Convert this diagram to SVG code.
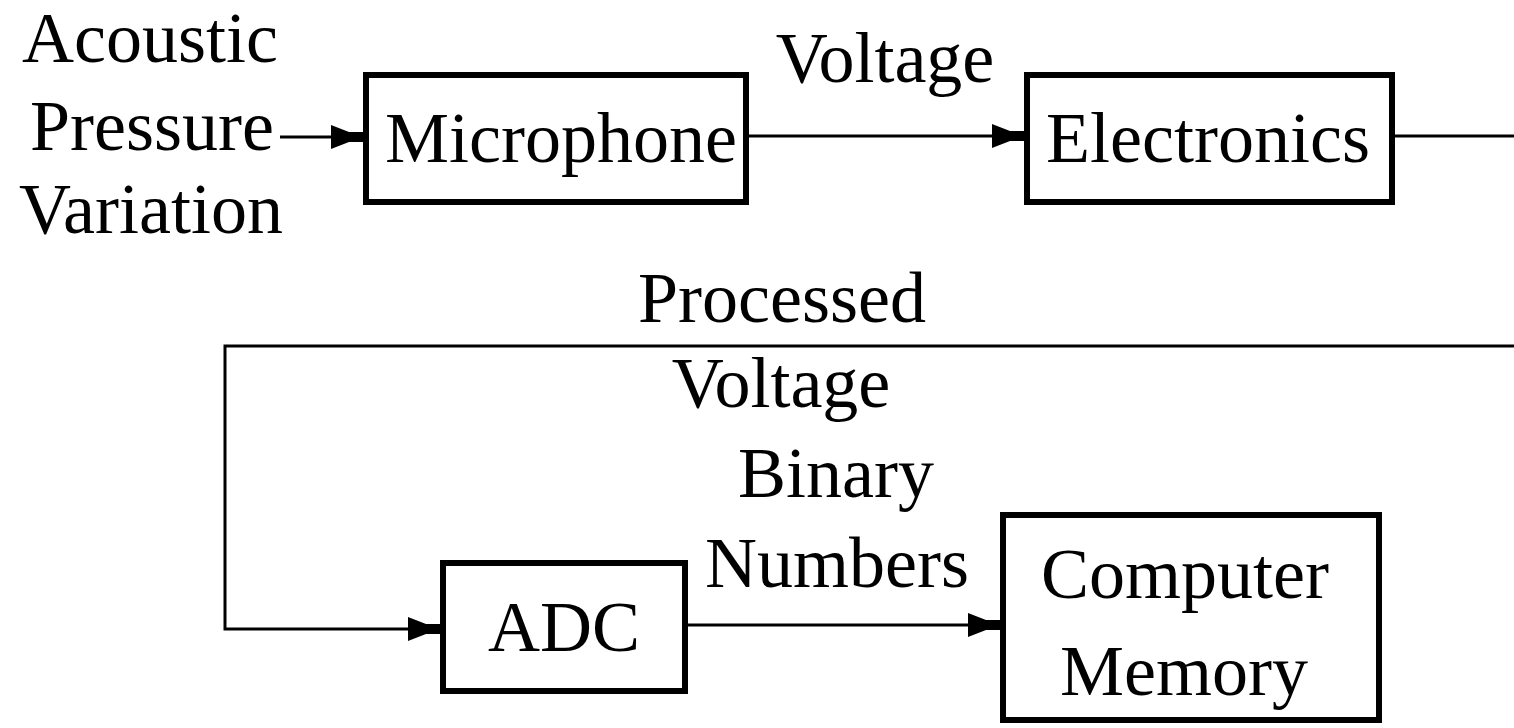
<svg xmlns="http://www.w3.org/2000/svg" width="1514" height="728" viewBox="0 0 1514 728">
<style>
.box{fill:#fff;stroke:#000;stroke-width:6}
.wire{fill:none;stroke:#000;stroke-width:3}
text{font-family:"Liberation Serif","Times New Roman",serif;font-size:72px;fill:#000;text-anchor:middle}
</style>
<defs>
<marker id="ah" markerUnits="userSpaceOnUse" markerWidth="40" markerHeight="30" viewBox="-36 -15 40 30" refX="0" refY="0" orient="auto">
<path d="M0,-5 L-14,-5 L-32,-12 L-32,12 L-14,5 L0,5 Z" fill="#000"/>
</marker>
</defs>
<rect width="1514" height="728" fill="#fff"/>
<g id="connectors">
<line class="wire" x1="280" y1="137" x2="363" y2="137" marker-end="url(#ah)"/>
<line class="wire" x1="749" y1="136" x2="1024" y2="136" marker-end="url(#ah)"/>
<polyline class="wire" points="1395,136 1514,136"/>
<polyline class="wire" points="1514,346 225,346 225,629 440,629" marker-end="url(#ah)"/>
<line class="wire" x1="688" y1="625" x2="1000" y2="625" marker-end="url(#ah)"/>
</g>
<g id="input-label">
<text x="150" y="62">Acoustic</text>
<text x="152" y="150">Pressure</text>
<text x="151" y="233">Variation</text>
</g>
<g id="microphone">
<rect class="box" x="366" y="75" width="380" height="127"/>
<text x="561" y="162">Microphone</text>
</g>
<g id="voltage-label">
<text x="885" y="82">Voltage</text>
</g>
<g id="electronics">
<rect class="box" x="1027" y="75" width="365" height="127"/>
<text x="1208" y="162">Electronics</text>
</g>
<g id="processed-label">
<text x="782" y="322">Processed</text>
<text x="781" y="407">Voltage</text>
</g>
<g id="adc">
<rect class="box" x="443" y="563" width="242" height="128"/>
<text x="564" y="651">ADC</text>
</g>
<g id="binary-label">
<text x="836" y="497">Binary</text>
<text x="837" y="587">Numbers</text>
</g>
<g id="computer-memory">
<rect class="box" x="1003" y="515" width="376" height="205"/>
<text x="1185" y="598">Computer</text>
<text x="1184" y="695">Memory</text>
</g>
</svg>
